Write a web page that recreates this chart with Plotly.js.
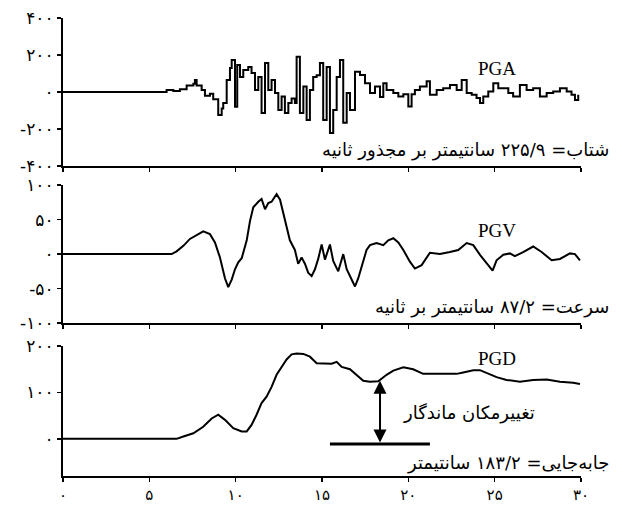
<!DOCTYPE html>
<html>
<head>
<meta charset="utf-8">
<script src="https://cdn.plot.ly/plotly-3.0.1.min.js"></script>
<style>html,body{margin:0;padding:0;background:#fff;}</style>
</head>
<body>
<div id="chart" style="width:617px;height:506px;"></div>
<script>
// Time axis tick values and Persian labels
const xTickVals = [0, 5, 10, 15, 20, 25, 30];
const xTickText = ["۰", "۵", "۱۰", "۱۵", "۲۰", "۲۵", "۳۰"];

const pgaTickVals = [-400, -200, 0, 200, 400];
const pgaTickText = ["-۴۰۰", "-۲۰۰", "۰", "۲۰۰", "۴۰۰"];
const pgvTickVals = [-100, -50, 0, 50, 100];
const pgvTickText = ["-۱۰۰", "-۵۰", "۰", "۵۰", "۱۰۰"];
const pgdTickVals = [0, 100, 200];
const pgdTickText = ["۰", "۱۰۰", "۲۰۰"];

// Acceleration (cm/s^2)
const pgaT = [0, 5.6, 6.0, 6.39, 6.77, 7.16, 7.55, 7.64, 7.74, 8.03, 8.22, 8.51, 8.70, 8.99, 9.19, 9.28, 9.48, 9.67, 9.77, 9.96, 10.09, 10.25, 10.44, 10.73, 10.92, 11.12, 11.31, 11.50, 11.70, 11.89, 12.08, 12.28, 12.47, 12.66, 12.85, 13.05, 13.24, 13.43, 13.53, 13.72, 13.92, 14.11, 14.30, 14.49, 14.69, 14.88, 15.07, 15.27, 15.46, 15.65, 15.85, 16.04, 16.23, 16.43, 16.62, 16.91, 17.20, 17.49, 17.78, 18.07, 18.36, 18.55, 18.74, 19.13, 19.42, 19.71, 20.0, 20.19, 20.38, 20.67, 21.06, 21.25, 21.64, 22.02, 22.41, 22.80, 23.09, 23.38, 23.67, 23.95, 24.15, 24.34, 24.63, 24.92, 25.21, 25.50, 25.79, 26.07, 26.46, 26.85, 27.23, 27.62, 28.01, 28.39, 28.78, 29.17, 29.45, 29.65, 29.84];
const pgaV = [0, 0, 10, 5, 15, 35, 45, 65, 35, 10, -20, -10, -40, -124, -90, -60, 65, 130, 173, -80, 146, 81, 119, 135, 103, 11, 81, -114, 157, 11, 65, -5, -97, -24, -114, -60, -35, -60, 191, -114, 29, -151, 11, 81, 90, 157, -151, 135, -222, -97, 81, 173, -167, -5, -97, 110, 92, 47, -6, 30, -27, 47, 11, -5, -24, -12, -79, -12, 11, 29, 58, -15, 11, 20, 38, 11, 65, -5, -15, -33, -60, -24, 2, 47, 20, 20, -6, -24, 38, 11, 20, -24, -6, 2, 20, 2, -15, -43, -15];

// Velocity (cm/s)
const pgvT = [0, 6.29, 6.58, 6.97, 7.35, 7.74, 8.12, 8.51, 8.80, 9.09, 9.38, 9.57, 9.77, 9.96, 10.15, 10.35, 10.64, 10.83, 11.02, 11.31, 11.50, 11.70, 11.89, 12.08, 12.37, 12.57, 12.76, 12.95, 13.14, 13.43, 13.62, 13.82, 14.01, 14.20, 14.40, 14.59, 14.78, 14.98, 15.17, 15.46, 15.65, 15.94, 16.23, 16.43, 16.72, 16.91, 17.10, 17.39, 17.58, 17.78, 18.16, 18.55, 18.84, 19.13, 19.42, 19.71, 20.09, 20.38, 20.77, 21.25, 21.83, 22.41, 22.89, 23.38, 23.76, 24.15, 24.53, 24.88, 25.11, 25.50, 25.88, 26.17, 26.65, 27.23, 27.72, 28.30, 28.78, 29.36, 29.65, 29.94];
const pgvV = [0, 0, 4, 12, 22, 28, 33, 29, 17, -5, -35, -48, -37, -22, -12, -6, 20, 48, 68, 76, 80, 65, 74, 76, 87, 79, 60, 40, 20, 6, -14, -5, -14, -27, -32, -22, -7, 14, -8, 14, -10, -25, 0, -22, -38, -47, -35, -8, 6, 13, 16, 13, 20, 23, 17, 6, -11, -21, -16, 2, 0, 3, 6, 16, 13, -1, -13, -24, -9, -1, 1, -3, 3, 11, 3, -9, -7, 1, 0, -9];

// Displacement (cm)
const pgdT = [0, 6.58, 6.97, 7.55, 8.12, 8.61, 8.99, 9.38, 9.86, 10.35, 10.64, 10.92, 11.21, 11.50, 11.79, 12.08, 12.37, 12.66, 12.95, 13.24, 13.53, 13.92, 14.30, 14.69, 15.07, 15.56, 15.85, 16.14, 16.62, 17.01, 17.39, 17.78, 18.26, 18.74, 19.13, 19.71, 20.28, 20.86, 21.83, 22.80, 23.18, 23.76, 24.15, 24.53, 25.11, 25.69, 26.46, 27.23, 28.01, 28.78, 29.55, 29.94];
const pgdV = [0, 0, 5, 12, 26, 44, 52, 41, 23, 16, 16, 30, 52, 77, 91, 112, 138, 155, 171, 182, 184, 183, 177, 163, 162, 162, 166, 155, 150, 138, 125, 123, 124, 138, 147, 154, 150, 140, 140, 140, 143, 148, 148, 142, 133, 127, 123, 127, 128, 123, 121, 118];

// Permanent displacement marker
const permT = 18.36;
const permTop = 125;
const permBase = -11;
const baseLineT = [15.46, 21.25];

const accText = "شتاب= ۲۲۵/۹ سانتیمتر بر مجذور ثانیه";
const velText = "سرعت= ۸۷/۲ سانتیمتر بر ثانیه";
const dispText = "جابه‌جایی= ۱۸۳/۲ سانتیمتر";
const permText = "تغییرمکان ماندگار";

const lineStyle = {color: "#000", width: 2};
const traces = [
  {x: pgaT, y: pgaV, xaxis: "x", yaxis: "y", mode: "lines", line: Object.assign({shape: "hv"}, lineStyle), hoverinfo: "skip"},
  {x: pgvT, y: pgvV, xaxis: "x2", yaxis: "y2", mode: "lines", line: lineStyle, hoverinfo: "skip"},
  {x: pgdT, y: pgdV, xaxis: "x3", yaxis: "y3", mode: "lines", line: lineStyle, hoverinfo: "skip"}
];

const yTickFont = {family: "DejaVu Sans", size: 17, color: "#000"};
const xTickFont = {family: "DejaVu Sans", size: 15, color: "#000"};
function xAx(anchor, labels) {
  return {
    domain: [0, 1], range: [0, 30], anchor: anchor,
    showline: true, linecolor: "#000", linewidth: 2,
    ticks: "outside", ticklen: 4, tickwidth: 1.5, tickcolor: "#000",
    tickvals: xTickVals, ticktext: xTickText, showticklabels: labels,
    tickfont: xTickFont, showgrid: false, zeroline: false
  };
}
function yAx(anchor, domain, range, tv, tt) {
  return {
    domain: domain, range: range, anchor: anchor,
    showline: true, linecolor: "#000", linewidth: 2,
    ticks: "outside", ticklen: 4, tickwidth: 1.5, tickcolor: "#000",
    tickvals: tv, ticktext: tt, tickfont: yTickFont,
    showgrid: false, zeroline: false
  };
}

const perFont = {family: "DejaVu Sans", size: 18, color: "#000"};
const engFont = {family: "Liberation Serif", size: 19, color: "#000"};

function note(x, y, text, font, xanchor) {
  return {xref: "paper", yref: "paper", x: x, y: y, text: text, showarrow: false,
          font: font, xanchor: xanchor, yanchor: "middle"};
}

const layout = {
  width: 617, height: 506,
  margin: {l: 63, r: 36, t: 18, b: 30},
  paper_bgcolor: "#fff", plot_bgcolor: "#fff",
  showlegend: false,
  xaxis: xAx("y", false),
  xaxis2: xAx("y2", false),
  xaxis3: xAx("y3", true),
  yaxis: yAx("x", [0.677, 1], [-400, 400], pgaTickVals, pgaTickText),
  yaxis2: yAx("x2", [0.334, 0.635], [-100, 100], pgvTickVals, pgvTickText),
  yaxis3: yAx("x3", [0, 0.2838], [-80, 200], pgdTickVals, pgdTickText),
  annotations: [
    note(0.838, 0.889, "PGA", engFont, "center"),
    note(0.838, 0.537, "PGV", engFont, "center"),
    note(0.838, 0.2555, "PGD", engFont, "center"),
    note(1.058, 0.712, accText, perFont, "right"),
    note(1.058, 0.369, velText, perFont, "right"),
    note(1.058, 0.0284, dispText, perFont, "right"),
    note(0.915, 0.1376, permText, perFont, "right"),
    {xref: "x3", yref: "y3", x: permT, y: permTop, axref: "x3", ayref: "y3", ax: permT, ay: permBase,
     text: "", showarrow: true, arrowhead: 2, startarrowhead: 2, arrowside: "end+start",
     arrowsize: 1.3, startarrowsize: 1.3, arrowwidth: 2, arrowcolor: "#000"}
  ],
  shapes: [
    {type: "line", xref: "x3", yref: "y3", x0: baseLineT[0], x1: baseLineT[1], y0: permBase, y1: permBase,
     line: {color: "#000", width: 3}}
  ]
};

Plotly.newPlot("chart", traces, layout, {displayModeBar: false, staticPlot: true});
</script>
</body>
</html>
